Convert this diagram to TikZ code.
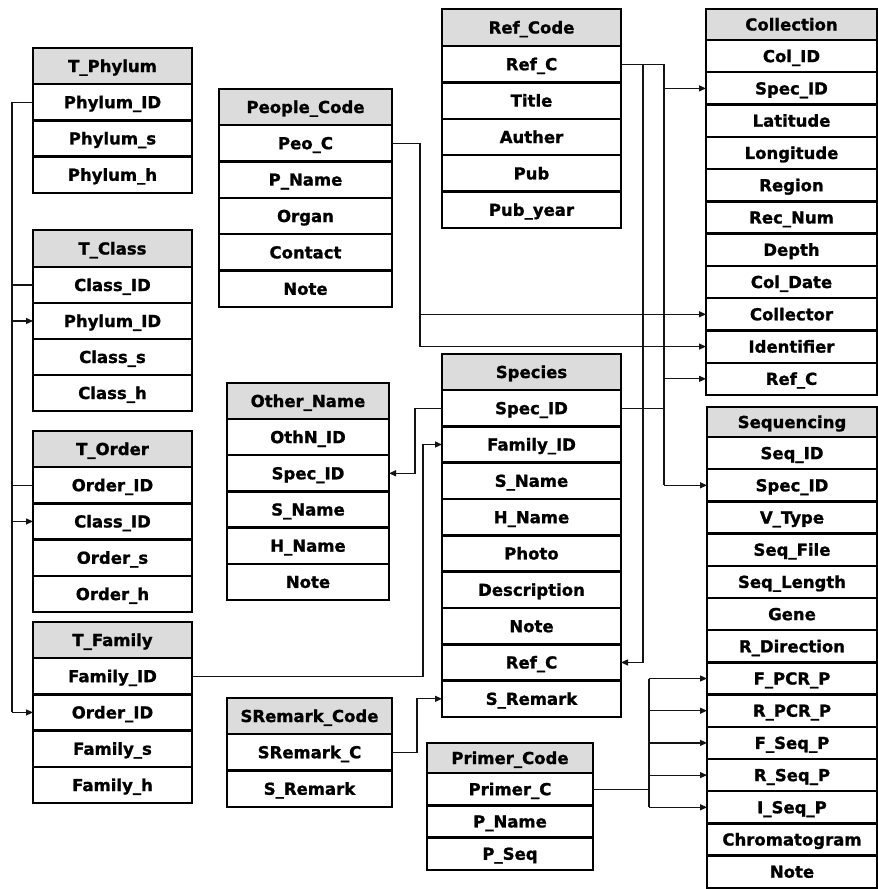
\documentclass[tikz,border=0pt]{standalone}
\usepackage{fontspec}
\newfontfamily\tblfont{DejaVu Sans}[BoldFeatures={FakeBold=1.2}]
\usetikzlibrary{arrows.meta,calc}
\definecolor{hdrgray}{RGB}{220,220,220}
\definecolor{lnk}{RGB}{20,20,20}
\tikzset{
 cell/.style={draw=black, line width=2.4pt, fill=white, inner sep=0pt, outer sep=0pt,
   anchor=north west, font=\tblfont\bfseries\fontsize{16.5}{18}\selectfont,
   text height=12pt, text depth=0pt, align=center},
 hdr/.style={cell, fill=hdrgray},
 conn/.style={draw=lnk, line width=1.2pt},
 arr/.style={conn, -{Triangle[length=7pt,width=6pt]}},
}
\newcommand{\dbtable}[8]{%
 \node[hdr, minimum width=#3pt, minimum height=#5pt] (#1-0) at (#2,#4) {#7};
 \foreach \f [count=\i] in {#8} {
   \node[cell, minimum width=#3pt, minimum height=#6pt] (#1-\i) at ({#2},{#4+#5+(\i-1)*#6}) {\f};
 }
}
\begin{document}
\begin{tikzpicture}[x=1pt,y=-1pt]
\useasboundingbox[fill=white] (0,0) rectangle (878,889);
% tables
\dbtable{phy}{33}{159}{48}{36}{36.3}{T\_Phylum}{Phylum\_ID,Phylum\_s,Phylum\_h}
\dbtable{cls}{33}{159}{230}{37}{36}{T\_Class}{Class\_ID,Phylum\_ID,Class\_s,Class\_h}
\dbtable{ord}{33}{159}{431}{36}{36.3}{T\_Order}{Order\_ID,Class\_ID,Order\_s,Order\_h}
\dbtable{fam}{33}{159}{622}{36}{36.3}{T\_Family}{Family\_ID,Order\_ID,Family\_s,Family\_h}
\dbtable{peo}{219}{173}{89}{36}{36.4}{People\_Code}{Peo\_C,P\_Name,Organ,Contact,Note}
\dbtable{ref}{442}{179}{9}{37}{36.4}{Ref\_Code}{Ref\_C,Title,Auther,Pub,Pub\_year}
\dbtable{col}{706}{171}{9}{31}{32.27}{Collection}{Col\_ID,Spec\_ID,Latitude,Longitude,Region,Rec\_Num,Depth,Col\_Date,Collector,Identifier,Ref\_C}
\dbtable{seq}{707}{170}{407}{30}{32.2}{Sequencing}{Seq\_ID,Spec\_ID,V\_Type,Seq\_File,Seq\_Length,Gene,R\_Direction,F\_PCR\_P,R\_PCR\_P,F\_Seq\_P,R\_Seq\_P,I\_Seq\_P,Chromatogram,Note}
\dbtable{spe}{442}{179}{354}{36}{36.33}{Species}{Spec\_ID,Family\_ID,S\_Name,H\_Name,Photo,Description,Note,Ref\_C,S\_Remark}
\dbtable{oth}{227}{162}{383}{36}{36.2}{Other\_Name}{OthN\_ID,Spec\_ID,S\_Name,H\_Name,Note}
\dbtable{srm}{227}{165}{698}{36}{36.5}{SRemark\_Code}{SRemark\_C,S\_Remark}
\dbtable{pri}{427}{166}{743}{30}{32.3}{Primer\_Code}{Primer\_C,P\_Name,P\_Seq}
% bus coordinates
\coordinate (busL) at (12,0);
\coordinate (busF) at (423,0);
\coordinate (busS) at (415,0);
\coordinate (busR) at (417,0);
\coordinate (busP) at (420,0);
\coordinate (busA) at (643,0);
\coordinate (busB) at (664,0);
\coordinate (busQ) at (649,0);
% taxonomy bus on the left
\draw[conn] (phy-1.west) -- (busL |- phy-1.west) -- (busL |- fam-2.west);
\draw[conn] (cls-1.west) -- (busL |- cls-1.west);
\draw[conn] (ord-1.west) -- (busL |- ord-1.west);
\draw[arr] (busL |- cls-2.west) -- (cls-2.west);
\draw[arr] (busL |- ord-2.west) -- (ord-2.west);
\draw[arr] (busL |- fam-2.west) -- (fam-2.west);
% family -> species
\draw[arr] (fam-1.east) -- (busF |- fam-1.east) |- (spe-2.west);
% species -> other name
\draw[arr] (spe-1.west) -- (busS |- spe-1.west) |- (oth-2.east);
% sremark -> species
\draw[arr] (srm-1.east) -- (busR |- srm-1.east) |- (spe-9.west);
% people -> collection
\draw[conn] (peo-1.east) -- (busP |- peo-1.east) -- (busP |- col-10.west);
\draw[arr] (busP |- col-9.west) -- (col-9.west);
\draw[arr] (busP |- col-10.west) -- (col-10.west);
% ref code / species spec_id
\draw[conn] (ref-1.east) -- (busB |- ref-1.east) -- (busB |- seq-2.west);
\draw[arr] (busA |- ref-1.east) -- (busA |- spe-8.east) -- (spe-8.east);
\draw[conn] (spe-1.east) -- (busB |- spe-1.east);
\draw[arr] (busB |- col-2.west) -- (col-2.west);
\draw[arr] (busB |- col-11.west) -- (col-11.west);
\draw[arr] (busB |- seq-2.west) -- (seq-2.west);
% primer -> sequencing
\draw[conn] (pri-1.east) -- (busQ |- pri-1.east);
\draw[conn] (busQ |- seq-8.west) -- (busQ |- seq-12.west);
\foreach \k in {8,...,12} { \draw[arr] (busQ |- seq-\k.west) -- (seq-\k.west); }
\end{tikzpicture}
\end{document}
